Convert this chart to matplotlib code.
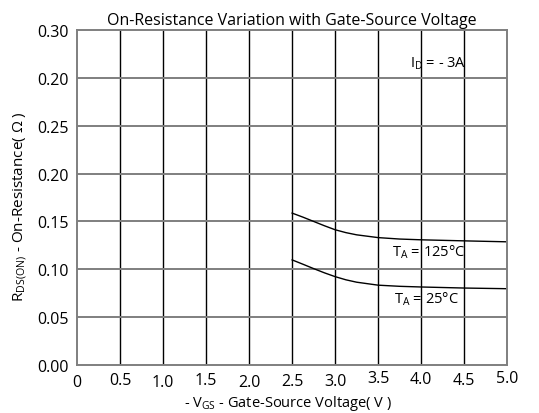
import matplotlib.pyplot as plt
from matplotlib.transforms import ScaledTranslation

plt.rcParams['font.family'] = ['Open Sans', 'DejaVu Sans']
plt.rcParams['mathtext.default'] = 'regular'

# curve data
vgs = [2.5, 2.625, 2.75, 2.875, 3.0, 3.125, 3.25, 3.5, 3.75, 4.0, 4.5, 5.0]
r_125 = [0.1587, 0.1545, 0.1500, 0.1455, 0.1413, 0.1383, 0.1360, 0.1331, 0.1316, 0.1308, 0.1297, 0.1287]
r_25 = [0.1098, 0.1053, 0.1007, 0.0963, 0.0923, 0.0890, 0.0865, 0.0834, 0.0822, 0.0815, 0.0804, 0.0797]

x_ticks = [0, 0.5, 1.0, 1.5, 2.0, 2.5, 3.0, 3.5, 4.0, 4.5, 5.0]
x_labels = ['0', '0.5', '1.0', '1.5', '2.0', '2.5', '3.0', '3.5', '4.0', '4.5', '5.0']
y_ticks = [0, 0.05, 0.10, 0.15, 0.20, 0.25, 0.30, 0.35]
y_labels = ['0.00', '0.05', '0.10', '0.15', '0.20', '0.25', '0.20', '0.30']

fig = plt.figure(figsize=(5.39, 4.14), dpi=100)
ax = fig.add_axes([0.143, 0.116, 0.798, 0.809])

ax.plot(vgs, r_125, color='black', lw=1)
ax.plot(vgs, r_25, color='black', lw=1)

ax.set_xlim(0, 5)
ax.set_ylim(0, 0.35)
ax.set_xticks(x_ticks)
ax.set_xticklabels(x_labels)
ax.set_yticks(y_ticks)
ax.set_yticklabels(y_labels)
ax.tick_params(length=0, labelsize=11.5, colors='black')
ax.tick_params(axis='x', pad=5)
ax.tick_params(axis='y', pad=6)

for x in x_ticks[1:-1]:
    ax.axvline(x, color='black', lw=1, zorder=1)
for y in y_ticks[1:-1]:
    ax.axhline(y, color='#7f7f7f', lw=1.4, zorder=1)
for s in ax.spines.values():
    s.set_color('#7f7f7f')
    s.set_linewidth(1.4)

# slightly staggered tick labels, like the original
offsets = [2, 0, 2, 0, 2, 1, 1, -2, -1, 0, -2]
for lab, dy in zip(ax.get_xticklabels(), offsets):
    lab.set_transform(lab.get_transform() + ScaledTranslation(0, -dy / 100, fig.dpi_scale_trans))

ax.set_title('On-Resistance Variation with Gate-Source Voltage', fontsize=11.5, pad=4)
ax.set_xlabel('- V$_{GS}$ - Gate-Source Voltage( V )', fontsize=10.5)
ax.set_ylabel('R$_{DS(ON)}$ - On-Resistance( Ω )', fontsize=11)
ax.xaxis.set_label_coords(0.49, -0.084)
ax.yaxis.set_label_coords(-0.112, 0.475)

ax.text(3.87, 0.316, 'I$_{D}$ = - 3A', fontsize=10.5, va='center')
ax.text(3.66, 0.119, 'T$_{A}$ = 125°C', fontsize=10.5, va='center')
ax.text(3.68, 0.070, 'T$_{A}$ = 25°C', fontsize=10.5, va='center')

fig.savefig('out.png', dpi=100)
